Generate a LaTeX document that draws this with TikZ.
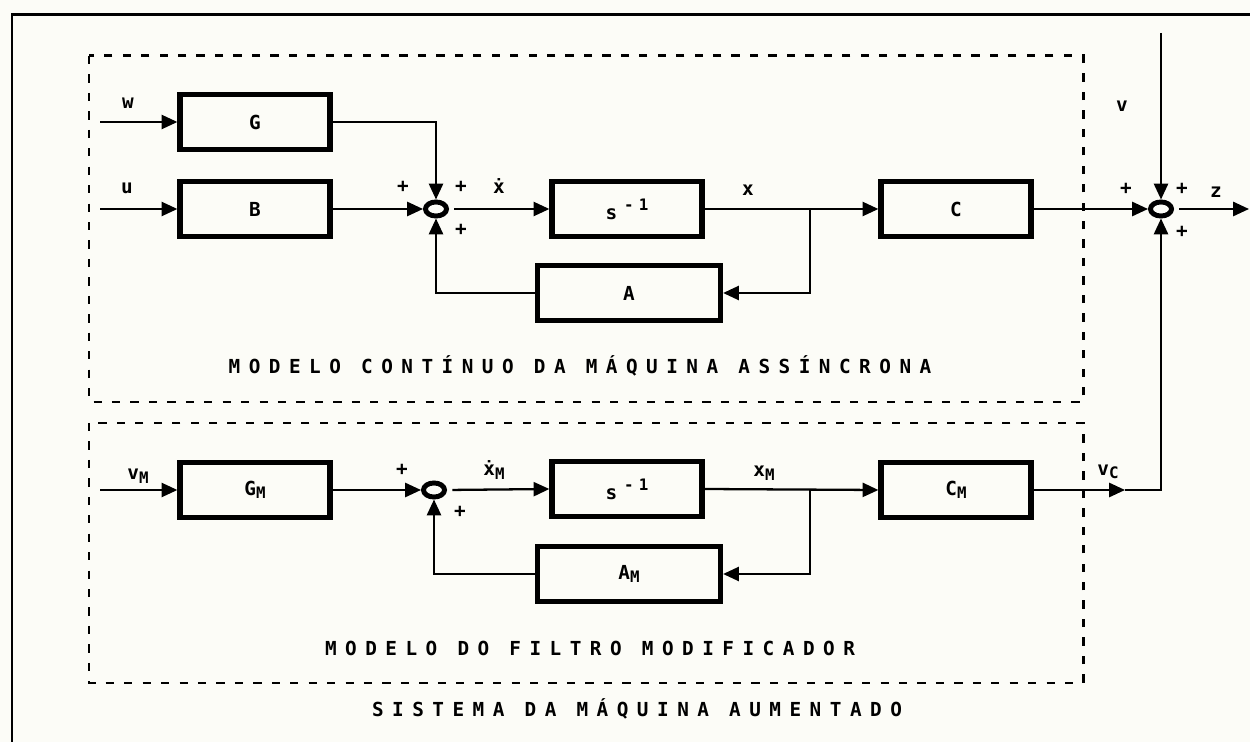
\documentclass[tikz,border=0pt]{standalone}
\usepackage{fontspec}
\usetikzlibrary{arrows.meta,shapes.geometric}
\newfontfamily\dmt[LetterSpace=44]{DejaVu Sans Mono}
\newfontfamily\dmb{DejaVu Sans Mono}
\definecolor{paper}{RGB}{252,252,247}
\newcommand{\subM}[1]{\raisebox{-2pt}{\fontsize{9}{9}\selectfont #1}}
\newcommand{\sinv}{s\kern4pt\raisebox{5pt}{\fontsize{9}{9}\selectfont -\kern3pt 1}}
\begin{document}
\begin{tikzpicture}[x=0.02cm,y=-0.02cm,
  lbl/.style={font=\dmb\bfseries\fontsize{11}{13}\selectfont, inner sep=0pt},
  pl/.style={font=\dmb\bfseries\fontsize{11}{12}\selectfont, inner sep=0pt},
  ttl/.style={font=\dmt\bfseries\fontsize{11}{13}\selectfont, inner sep=0pt},
  blk/.style={draw, line width=3pt, minimum width=3cm, minimum height=1.1cm, inner sep=0pt, font=\dmb\bfseries\fontsize{11}{13}\selectfont},
  wideblk/.style={blk, minimum width=3.66cm},
  sum/.style={draw, ellipse, line width=2.8pt, minimum width=12pt, minimum height=8pt, inner sep=0pt},
  wire/.style={line width=1.3pt},
  arr/.style={wire, -{Triangle[length=9pt,width=8pt]}},
  dbox/.style={line width=1.7pt, dash pattern=on 4.7pt off 5.8pt},
]
\fill[paper] (0,0) rectangle (1250,742);
\useasboundingbox (0,0) rectangle (1250,742);
% outer frame
\draw[line width=1.7pt] (12,742) -- (12,15) -- (1250,15);
% dashed boxes
\draw[dbox] (89,56) rectangle (1083,402);
\draw[dbox] (89,423) rectangle (1083,683);

% top system
\node[blk] (G) at (255,122) {G};
\node[blk] (B) at (255,209) {B};
\node[sum] (S1) at (436,209) {};
\node[blk] (I1) at (627,209) {\sinv};
\node[wideblk] (A) at (629,293) {A};
\node[blk] (C) at (956,209) {C};
\node[sum] (S2) at (1161,209) {};

\coordinate (win) at (100,122);
\coordinate (uin) at (100,209);
\coordinate (br1) at (810,209);
\coordinate (zend) at (1249,209);
\coordinate (vtop) at (1161,33);

\draw[arr] (win) -- (G.west);
\draw[arr] (uin) -- (B.west);
\draw[arr] (G.east) -| (S1.north);
\draw[arr] (B.east) -- (S1.west);
\draw[arr,shorten <=3pt] (S1.east) -- (I1.west);
\draw[arr] (I1.east) -- (C.west);
\draw[arr] (br1) |- (A.east);
\draw[arr] (A.west) -| (S1.south);
\draw[arr] (C.east) -- (S2.west);
\draw[arr,shorten <=3pt] (S2.east) -- (zend);
\draw[arr] (vtop) -- (S2.north);

\node[lbl] (lw) at (128,103) {w};
\node[lbl] (lu) at (127,188) {u};
\node[lbl] (lxd) at (499,186) {\.{x}};
\node[lbl] (lx) at (748,190) {x};
\node[lbl] (lv) at (1122,106) {v};
\node[lbl] (lz) at (1216,192) {z};
\node[pl] (p1) at (403,187) {+};
\node[pl] (p2) at (461,187) {+};
\node[pl] (p3) at (461,230) {+};
\node[pl] (p4) at (1126,189) {+};
\node[pl] (p5) at (1182,189) {+};
\node[pl] (p6) at (1182,232) {+};

\node[ttl] (t1) at (580,366) {MODELO CONTÍNUO DA MÁQUINA ASSÍNCRONA};

% bottom system
\node[blk] (GM) at (255,490) {G\subM{M}};
\node[sum] (S3) at (434,490) {};
\node[blk] (IM) at (627,489) {\sinv};
\node[wideblk] (AM) at (629,574) {A\subM{M}};
\node[blk] (CM) at (956,490) {C\subM{M}};

\coordinate (vmin) at (100,490);
\coordinate (br2) at (810,490);
\coordinate (vcm) at (1125,490);

\draw[arr] (vmin) -- (GM.west);
\draw[arr] (GM.east) -- (S3.west);
\draw[arr,shorten <=3pt] (S3.east) -- (IM.west);
\draw[arr] (IM.east) -- (CM.west);
\draw[arr] (br2) |- (AM.east);
\draw[arr] (AM.west) -| (S3.south);
\draw[arr] (CM.east) -- (vcm);
\draw[arr] (vcm) -| (S2.south);

\node[lbl] (lvm) at (138,476) {v\subM{M}};
\node[lbl] (lxdm) at (494,470) {\.{x}\subM{M}};
\node[lbl] (lxm) at (764,473) {x\subM{M}};
\node[lbl] (lvc) at (1108,472) {v\subM{C}};
\node[pl] (p7) at (402,470) {+};
\node[pl] (p8) at (460,512) {+};

\node[ttl] (t2) at (590,648) {MODELO DO FILTRO MODIFICADOR};
\node[ttl] (t3) at (637,709) {SISTEMA DA MÁQUINA AUMENTADO};
\end{tikzpicture}
\end{document}
